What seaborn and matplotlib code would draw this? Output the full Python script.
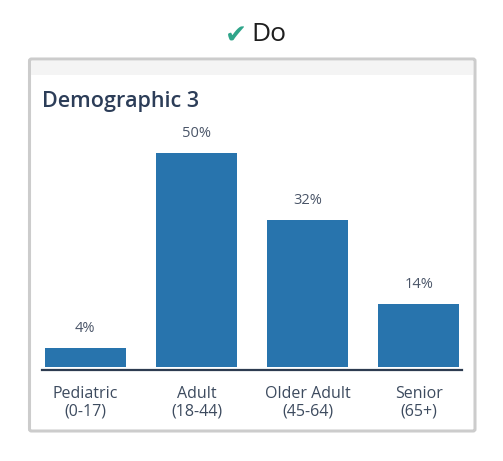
import matplotlib
matplotlib.use("Agg")
import matplotlib.pyplot as plt
import seaborn as sns
import pandas as pd
from matplotlib.patches import FancyBboxPatch, Rectangle

categories = ["Pediatric\n(0-17)", "Adult\n(18-44)", "Older Adult\n(45-64)", "Senior\n(65+)"]
values = [4.4, 50.0, 34.3, 14.7]
value_labels = ["4%", "50%", "32%", "14%"]
chart_title = "Demographic 3"
header = "Do"

sns.set_theme(style="white")
plt.rcParams['font.family'] = ['Open Sans', 'DejaVu Sans']

W, H = 503, 461
fig = plt.figure(figsize=(W / 100, H / 100), dpi=100)
fig.patch.set_facecolor("white")

def fx(px):
    return px / W

def fy(py):
    return 1 - py / H

# card
card = FancyBboxPatch((fx(29.5), fy(431)), fx(475 - 29.5), fy(59) - fy(431),
                      boxstyle="round,pad=0,rounding_size=0.004",
                      transform=fig.transFigure, facecolor="white",
                      edgecolor="#cccccc", linewidth=2.2, zorder=-2)
fig.patches.append(card)
band = Rectangle((fx(31), fy(75)), fx(473 - 31), fy(61) - fy(75),
                 transform=fig.transFigure, facecolor="#f4f4f4",
                 edgecolor="none", zorder=-1)
fig.patches.append(band)

# header
fig.text(fx(247), fy(37), "✔", color="#2fa58a", fontsize=19,
         family=["DejaVu Sans"], ha="right", va="center")
fig.text(fx(251), fy(34.5), header, color="#1e1e1e", fontsize=19,
         ha="left", va="center")

fig.text(fx(42), fy(101), chart_title, color="#2c3d58", fontsize=15.5,
         fontweight="semibold", ha="left", va="center")

# axes
ax_left, ax_right = 42, 462
ax_bottom, ax_top = 369.5, 110
ax = fig.add_axes([fx(ax_left), fy(ax_bottom), fx(ax_right - ax_left), fy(ax_top) - fy(ax_bottom)])
ax.set_facecolor("none")
ax.set_zorder(2)

df = pd.DataFrame({"group": categories, "pct": values})
sns.barplot(data=df, x="group", y="pct", order=categories, color="#2874ad",
            width=0.73, saturation=1, linewidth=0, ax=ax)

px_per_unit = 214 / 50.0
ax.set_ylim(-2.5 / px_per_unit, (367 - ax_top) / px_per_unit)
ax.set_xlim(-0.39, 3.39)

for i, (v, lab) in enumerate(zip(values, value_labels)):
    ax.annotate(lab, (i, v), xytext=(0, 20 * 0.72), textcoords="offset points",
                ha="center", va="center", fontsize=10.5, color="#4a5568")

ax.set_xlabel("")
ax.set_ylabel("")
ax.set_yticks([])
for s in ["top", "right", "left"]:
    ax.spines[s].set_visible(False)
ax.spines["bottom"].set_color("#2d3b50")
ax.spines["bottom"].set_linewidth(1.6)
ax.tick_params(axis="x", length=0, pad=12, labelsize=11.5, labelcolor="#3d4b5f")
for t in ax.get_xticklabels():
    t.set_linespacing(1.15)

fig.savefig("out.png", dpi=100, facecolor="white")
